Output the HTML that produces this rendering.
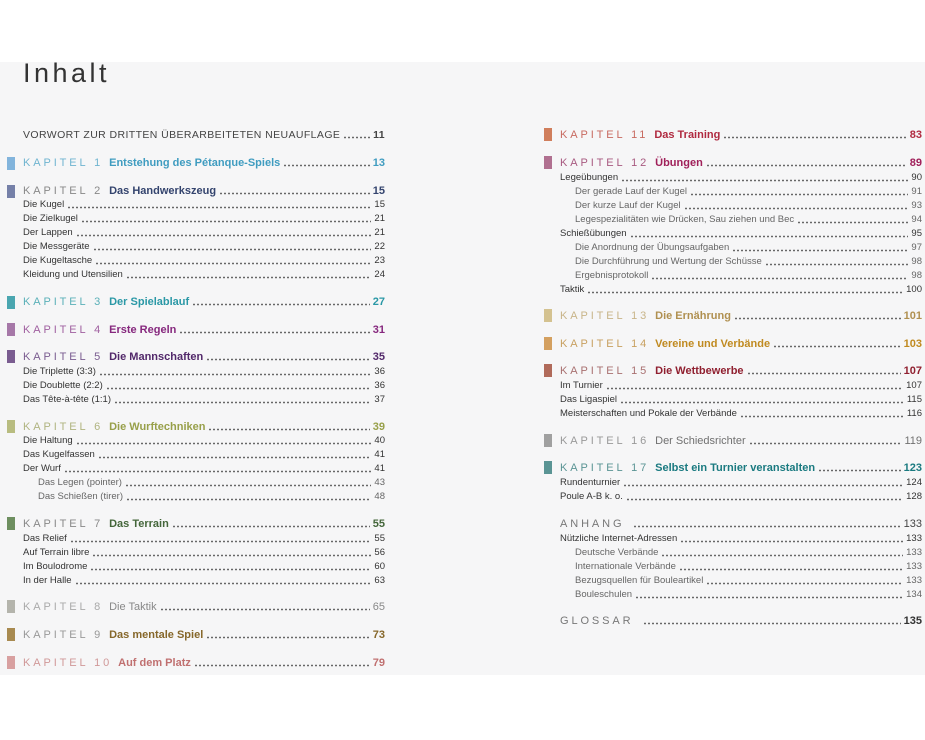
<!DOCTYPE html>
<html><head><meta charset="utf-8"><style>
*{margin:0;padding:0;box-sizing:border-box}
body{width:925px;height:740px;background:#fff;position:relative;font-family:"Liberation Sans",sans-serif;overflow:hidden}
#bg{position:absolute;left:0;top:62px;width:925px;height:613px;background:#f6f6f7}
h1{position:absolute;left:23px;top:58px;font-weight:normal;font-size:27px;letter-spacing:3.5px;color:#333}
.r{position:absolute;display:flex;align-items:flex-end;height:14px;line-height:14px;font-size:9.5px;color:#333;white-space:nowrap}
.L{left:23px;width:362px}.R{left:560px;width:362px}
.i{padding-left:15px}
.d{flex:1;height:14px;margin:0 3px;background-image:radial-gradient(circle,#555 0.7px,transparent 1.1px);background-size:4px 3px;background-repeat:repeat-x;background-position:0 8px}
.k{font-size:11px;height:16px;line-height:16px}
.k .d{background-position:0 9px;height:16px}
.kl{letter-spacing:2.9px;margin-right:6px}
.t{font-weight:bold}
.m{position:absolute;width:8px;height:13px}
.big{font-size:10.5px;letter-spacing:0.4px;color:#444;height:16px;line-height:16px}
.big .d{background-position:0 9px;height:16px}
</style></head><body>
<div id="bg"></div>
<h1>Inhalt</h1>

<div class="r L big" style="top:127px">VORWORT ZUR DRITTEN ÜBERARBEITETEN NEUAUFLAGE<span class="d"></span><b>11</b></div>

<div class="m" style="left:7px;top:157px;background:#82b4dc"></div>
<div class="r L k" style="top:155px;color:#3f9cc0"><span class="kl" style="color:#6fb4d0">KAPITEL 1</span><span class="t">Entstehung des Pétanque-Spiels</span><span class="d"></span><span class="t">13</span></div>

<div class="m" style="left:7px;top:185px;background:#7580a8"></div>
<div class="r L k" style="top:183px;color:#34446e"><span class="kl" style="color:#888">KAPITEL 2</span><span class="t">Das Handwerkszeug</span><span class="d"></span><span class="t">15</span></div>
<div class="r L" style="top:198px">Die Kugel<span class="d"></span>15</div>
<div class="r L" style="top:212px">Die Zielkugel<span class="d"></span>21</div>
<div class="r L" style="top:226px">Der Lappen<span class="d"></span>21</div>
<div class="r L" style="top:240px">Die Messgeräte<span class="d"></span>22</div>
<div class="r L" style="top:254px">Die Kugeltasche<span class="d"></span>23</div>
<div class="r L" style="top:268px">Kleidung und Utensilien<span class="d"></span>24</div>

<div class="m" style="left:7px;top:296px;background:#4aa6b0"></div>
<div class="r L k" style="top:294px;color:#2a98a6"><span class="kl" style="color:#5ab0b8">KAPITEL 3</span><span class="t">Der Spielablauf</span><span class="d"></span><span class="t">27</span></div>

<div class="m" style="left:7px;top:323px;background:#a678a8"></div>
<div class="r L k" style="top:322px;color:#86287e"><span class="kl" style="color:#a060a0">KAPITEL 4</span><span class="t">Erste Regeln</span><span class="d"></span><span class="t">31</span></div>

<div class="m" style="left:7px;top:350px;background:#7a5c90"></div>
<div class="r L k" style="top:349px;color:#52286a"><span class="kl" style="color:#7a5c90">KAPITEL 5</span><span class="t">Die Mannschaften</span><span class="d"></span><span class="t">35</span></div>
<div class="r L" style="top:365px">Die Triplette (3:3)<span class="d"></span>36</div>
<div class="r L" style="top:379px">Die Doublette (2:2)<span class="d"></span>36</div>
<div class="r L" style="top:393px">Das Tête-à-tête (1:1)<span class="d"></span>37</div>

<div class="m" style="left:7px;top:420px;background:#b8bc80"></div>
<div class="r L k" style="top:419px;color:#98a04a"><span class="kl" style="color:#b0b480">KAPITEL 6</span><span class="t">Die Wurftechniken</span><span class="d"></span><span class="t">39</span></div>
<div class="r L" style="top:434px">Die Haltung<span class="d"></span>40</div>
<div class="r L" style="top:448px">Das Kugelfassen<span class="d"></span>41</div>
<div class="r L" style="top:462px">Der Wurf<span class="d"></span>41</div>
<div class="r L i" style="top:476px;color:#666">Das Legen (pointer)<span class="d"></span>43</div>
<div class="r L i" style="top:490px;color:#666">Das Schießen (tirer)<span class="d"></span>48</div>

<div class="m" style="left:7px;top:517px;background:#6e8f60"></div>
<div class="r L k" style="top:516px;color:#44663a"><span class="kl" style="color:#888">KAPITEL 7</span><span class="t">Das Terrain</span><span class="d"></span><span class="t">55</span></div>
<div class="r L" style="top:532px">Das Relief<span class="d"></span>55</div>
<div class="r L" style="top:546px">Auf Terrain libre<span class="d"></span>56</div>
<div class="r L" style="top:560px">Im Boulodrome<span class="d"></span>60</div>
<div class="r L" style="top:574px">In der Halle<span class="d"></span>63</div>

<div class="m" style="left:7px;top:600px;background:#b4b4ac"></div>
<div class="r L k" style="top:599px;color:#888"><span class="kl" style="color:#aaa">KAPITEL 8</span><span>Die Taktik</span><span class="d"></span><span>65</span></div>

<div class="m" style="left:7px;top:628px;background:#a88a50"></div>
<div class="r L k" style="top:627px;color:#86672a"><span class="kl" style="color:#999">KAPITEL 9</span><span class="t">Das mentale Spiel</span><span class="d"></span><span class="t">73</span></div>

<div class="m" style="left:7px;top:656px;background:#d8a0a0"></div>
<div class="r L k" style="top:655px;color:#c07070"><span class="kl" style="color:#d09898">KAPITEL 10</span><span class="t">Auf dem Platz</span><span class="d"></span><span class="t">79</span></div>

<!-- right -->
<div class="m" style="left:544px;top:128px;background:#d07e5c"></div>
<div class="r R k" style="top:127px;color:#b02a40"><span class="kl" style="color:#c86a60">KAPITEL 11</span><span class="t">Das Training</span><span class="d"></span><span class="t">83</span></div>

<div class="m" style="left:544px;top:156px;background:#b07090"></div>
<div class="r R k" style="top:155px;color:#a0205a"><span class="kl" style="color:#a85a80">KAPITEL 12</span><span class="t">Übungen</span><span class="d"></span><span class="t">89</span></div>
<div class="r R" style="top:171px">Legeübungen<span class="d"></span>90</div>
<div class="r R i" style="top:185px;color:#666">Der gerade Lauf der Kugel<span class="d"></span>91</div>
<div class="r R i" style="top:199px;color:#666">Der kurze Lauf der Kugel<span class="d"></span>93</div>
<div class="r R i" style="top:213px;color:#666">Legespezialitäten wie Drücken, Sau ziehen und Bec<span class="d"></span>94</div>
<div class="r R" style="top:227px">Schießübungen<span class="d"></span>95</div>
<div class="r R i" style="top:241px;color:#666">Die Anordnung der Übungsaufgaben<span class="d"></span>97</div>
<div class="r R i" style="top:255px;color:#666">Die Durchführung und Wertung der Schüsse<span class="d"></span>98</div>
<div class="r R i" style="top:269px;color:#666">Ergebnisprotokoll<span class="d"></span>98</div>
<div class="r R" style="top:283px">Taktik<span class="d"></span>100</div>

<div class="m" style="left:544px;top:309px;background:#d4c290"></div>
<div class="r R k" style="top:308px;color:#b09050"><span class="kl" style="color:#c8b488">KAPITEL 13</span><span class="t">Die Ernährung</span><span class="d"></span><span class="t">101</span></div>

<div class="m" style="left:544px;top:337px;background:#d4a060"></div>
<div class="r R k" style="top:336px;color:#c08a20"><span class="kl" style="color:#c8a060">KAPITEL 14</span><span class="t">Vereine und Verbände</span><span class="d"></span><span class="t">103</span></div>

<div class="m" style="left:544px;top:364px;background:#b06a5a"></div>
<div class="r R k" style="top:363px;color:#902030"><span class="kl" style="color:#a87070">KAPITEL 15</span><span class="t">Die Wettbewerbe</span><span class="d"></span><span class="t">107</span></div>
<div class="r R" style="top:379px">Im Turnier<span class="d"></span>107</div>
<div class="r R" style="top:393px">Das Ligaspiel<span class="d"></span>115</div>
<div class="r R" style="top:407px">Meisterschaften und Pokale der Verbände<span class="d"></span>116</div>

<div class="m" style="left:544px;top:434px;background:#a0a0a0"></div>
<div class="r R k" style="top:433px;color:#707070"><span class="kl" style="color:#999">KAPITEL 16</span><span>Der Schiedsrichter</span><span class="d"></span><span>119</span></div>

<div class="m" style="left:544px;top:461px;background:#5a9494"></div>
<div class="r R k" style="top:460px;color:#1a7a80"><span class="kl" style="color:#5a9494">KAPITEL 17</span><span class="t">Selbst ein Turnier veranstalten</span><span class="d"></span><span class="t">123</span></div>
<div class="r R" style="top:476px">Rundenturnier<span class="d"></span>124</div>
<div class="r R" style="top:490px">Poule A-B k. o.<span class="d"></span>128</div>

<div class="r R k" style="top:516px;color:#444"><span class="kl" style="color:#777">ANHANG</span><span class="d"></span><span>133</span></div>
<div class="r R" style="top:532px">Nützliche Internet-Adressen<span class="d"></span>133</div>
<div class="r R i" style="top:546px;color:#666">Deutsche Verbände<span class="d"></span>133</div>
<div class="r R i" style="top:560px;color:#666">Internationale Verbände<span class="d"></span>133</div>
<div class="r R i" style="top:574px;color:#666">Bezugsquellen für Bouleartikel<span class="d"></span>133</div>
<div class="r R i" style="top:588px;color:#666">Bouleschulen<span class="d"></span>134</div>

<div class="r R k" style="top:613px;color:#333"><span class="kl" style="color:#777">GLOSSAR</span><span class="d"></span><span class="t">135</span></div>
</body></html>
